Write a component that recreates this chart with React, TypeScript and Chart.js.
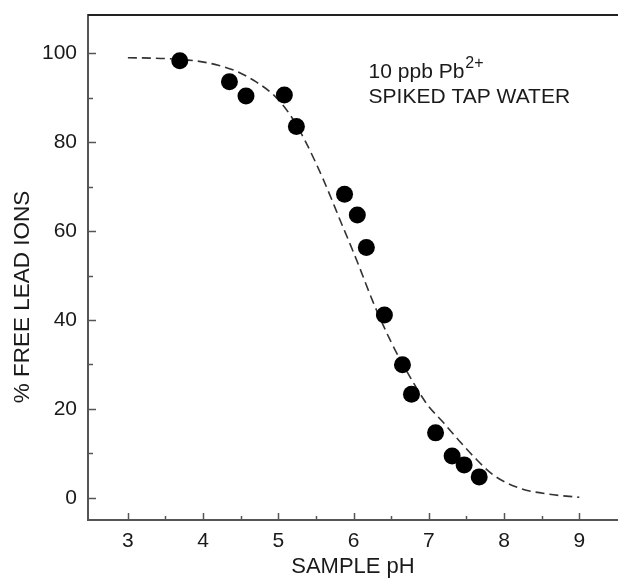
import React, { useEffect, useRef } from "react";
import { Chart, registerables } from "chart.js";

Chart.register(...registerables);

// Measured data points (sample pH, % free lead ions)
const samplePH = [3.69, 4.35, 4.57, 5.08, 5.24, 5.88, 6.05, 6.17, 6.41, 6.65, 6.77, 7.09, 7.31, 7.47, 7.67];
const freeLead = [98.3, 93.6, 90.4, 90.6, 83.5, 68.3, 63.6, 56.3, 41.1, 29.9, 23.3, 14.6, 9.4, 7.4, 4.7];

// Dashed model curve
const curvePH = [3.0, 3.5, 3.9, 4.2, 4.45, 4.7, 4.95, 5.15, 5.35, 5.6, 5.82, 6.04, 6.26, 6.5, 6.75, 6.97, 7.2, 7.4, 7.6, 7.86, 8.2, 8.6, 9.0];
const curveLead = [99.0, 98.8, 98.3, 97.3, 95.9, 93.6, 90.4, 86.3, 80.5, 71.5, 62.5, 53.5, 44.0, 35.0, 27.2, 21.2, 16.8, 12.9, 9.2, 5.1, 2.2, 0.8, 0.1];

// Tick values
const xMajorTicks = [3, 4, 5, 6, 7, 8, 9];
const xMinorTicks = [3.5, 4.5, 5.5, 6.5, 7.5, 8.5];
const yMajorTicks = [0, 20, 40, 60, 80, 100];
const yMinorTicks = [10, 30, 50, 70, 90];

const xTitle = "SAMPLE pH";
const yTitle = "% FREE LEAD IONS";
const noteLine1 = "10 ppb Pb";
const noteSup = "2+";
const noteLine2 = "SPIKED TAP WATER";

const FONT = "'Liberation Sans', Arial, sans-serif";
const TEXT = "#1a1a1a";
const AXIS = "#555555";

const zeroPad = (s: any) => {
  s.paddingTop = 0;
  s.paddingBottom = 0;
  s.paddingLeft = 0;
  s.paddingRight = 0;
};

const framePlugin = {
  id: "frameAndTicks",
  afterDraw(chart: any) {
    const { ctx, chartArea } = chart;
    const xs = chart.scales.x;
    const ys = chart.scales.y;
    ctx.save();
    // top frame line
    ctx.strokeStyle = "#222222";
    ctx.lineWidth = 2;
    ctx.beginPath();
    ctx.moveTo(chartArea.left, chartArea.top);
    ctx.lineTo(chartArea.right, chartArea.top);
    ctx.stroke();
    // inward ticks
    ctx.strokeStyle = AXIS;
    ctx.lineWidth = 1.5;
    const drawX = (vals: number[], len: number) => {
      vals.forEach((v) => {
        const px = Math.round(xs.getPixelForValue(v)) + 0.5;
        ctx.beginPath();
        ctx.moveTo(px, chartArea.bottom);
        ctx.lineTo(px, chartArea.bottom - len);
        ctx.stroke();
      });
    };
    const drawY = (vals: number[], len: number) => {
      vals.forEach((v) => {
        const py = Math.round(ys.getPixelForValue(v)) + 0.5;
        ctx.beginPath();
        ctx.moveTo(chartArea.left, py);
        ctx.lineTo(chartArea.left + len, py);
        ctx.stroke();
      });
    };
    drawX(xMajorTicks, 7);
    drawX(xMinorTicks, 4);
    drawY(yMajorTicks, 8);
    drawY(yMinorTicks, 5);

    // y axis title
    ctx.fillStyle = TEXT;
    ctx.font = `22.5px ${FONT}`;
    ctx.textAlign = "center";
    ctx.textBaseline = "middle";
    ctx.translate(chartArea.left - 65, chartArea.top + 282);
    ctx.rotate(-Math.PI / 2);
    ctx.fillText(yTitle, 0, 0);
    ctx.setTransform(1, 0, 0, 1, 0, 0);

    // annotation
    ctx.textAlign = "left";
    ctx.textBaseline = "alphabetic";
    const nx = xs.getPixelForValue(6.2);
    const ny1 = ys.getPixelForValue(94.4);
    const ny2 = ys.getPixelForValue(88.7);
    ctx.font = `21px ${FONT}`;
    ctx.fillText(noteLine1, nx, ny1);
    const w = ctx.measureText(noteLine1).width;
    ctx.font = `16px ${FONT}`;
    ctx.fillText(noteSup, nx + w + 1, ny1 - 10);
    ctx.font = `21px ${FONT}`;
    ctx.fillText(noteLine2, nx, ny2);
    ctx.restore();
  },
};

export default function App() {
  const ref = useRef<HTMLCanvasElement | null>(null);

  useEffect(() => {
    if (!ref.current) return;
    const chart = new Chart(ref.current, {
      type: "scatter",
      data: {
        datasets: [
          {
            label: "measured",
            data: samplePH.map((x, i) => ({ x, y: freeLead[i] })),
            backgroundColor: "#000000",
            borderWidth: 0,
            pointRadius: 8.5,
            pointHoverRadius: 8.5,
            showLine: false,
          },
          {
            label: "model",
            data: curvePH.map((x, i) => ({ x, y: curveLead[i] })),
            showLine: true,
            borderColor: "#333333",
            borderWidth: 1.6,
            borderDash: [9, 5],
            pointRadius: 0,
            tension: 0.4,
            cubicInterpolationMode: "monotone",
            fill: false,
          },
        ],
      },
      options: {
        responsive: false,
        animation: false,
        devicePixelRatio: 1,
        layout: { autoPadding: false, padding: { top: 15, right: 0, left: 0, bottom: 0 } },
        plugins: { legend: { display: false }, tooltip: { enabled: false } },
        scales: {
          x: {
            type: "linear",
            min: 2.47,
            max: 9.515,
            afterBuildTicks: (s: any) => {
              s.ticks = xMajorTicks.map((v) => ({ value: v }));
            },
            afterFit: (s: any) => {
              s.height = 59;
              zeroPad(s);
            },
            grid: { display: false, drawTicks: false, tickLength: 0 },
            border: { display: true, color: AXIS, width: 2 },
            ticks: {
              padding: 9,
              color: TEXT,
              font: { family: FONT, size: 21 },
              maxRotation: 0,
            },
            title: {
              display: true,
              text: xTitle,
              color: TEXT,
              font: { family: FONT, size: 22, lineHeight: 1.1 },
              padding: { top: 0, bottom: 0 },
            },
          },
          y: {
            type: "linear",
            min: -5,
            max: 108.6,
            afterBuildTicks: (s: any) => {
              s.ticks = yMajorTicks.map((v) => ({ value: v }));
            },
            afterFit: (s: any) => {
              s.width = 88;
              zeroPad(s);
            },
            grid: { display: false, drawTicks: false, tickLength: 0 },
            border: { display: true, color: AXIS, width: 2 },
            ticks: {
              padding: 11,
              color: TEXT,
              font: { family: FONT, size: 21 },
            },
          },
        },
      },
      plugins: [framePlugin],
    } as any);
    return () => chart.destroy();
  }, []);

  return (
    <div style={{ position: "absolute", left: 0, top: 0, width: 618, height: 579, background: "#ffffff" }}>
      <canvas ref={ref} width={618} height={579} style={{ width: 618, height: 579, display: "block" }} />
    </div>
  );
}
